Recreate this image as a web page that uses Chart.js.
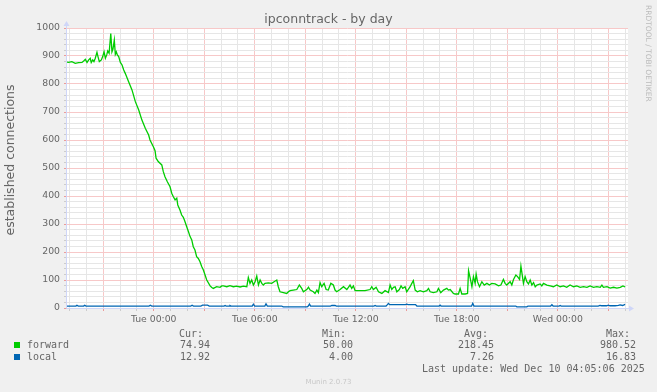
<!DOCTYPE html>
<html lang="en">
<head>
<meta charset="UTF-8">
<title>ipconntrack - by day</title>
<script src="https://cdn.jsdelivr.net/npm/chart.js@4.4.1/dist/chart.umd.min.js"></script>
<style>
    body { margin: 0; background: #f0f0f0; }
    #wrap { position: relative; width: 657px; height: 392px; overflow: hidden;
            font-family: 'DejaVu Sans', sans-serif; color: #666; }
    #chart { position: absolute; left: 0; top: 0; }
    .t { position: absolute; white-space: nowrap; }
    #title { left: 0; width: 657px; top: 12px; text-align: center; font-size: 12.5px; line-height: 14px; }
    #ytitle { left: -90px; top: 153px; width: 200px; text-align: center; font-size: 12.5px; line-height: 14px;
              transform: rotate(-90deg); }
    #side { left: 644px; top: 5px; writing-mode: vertical-rl; font-size: 7.5px; line-height: 8px; color: #bbb; }
    #footer { left: 0; width: 657px; top: 378px; text-align: center; font-size: 7px; line-height: 9px; color: #c8c8c8; }
    .mono { font-family: 'DejaVu Sans Mono', monospace; font-size: 10px; line-height: 12px; color: #666; }
    .sw { position: absolute; width: 6px; height: 6px; }
</style>
</head>
<body>
<div id="wrap">
    <canvas id="chart" width="657" height="392"></canvas>
    <div class="t" id="title">ipconntrack - by day</div>
    <div class="t" id="ytitle">established connections</div>
    <div class="t" id="side">RRDTOOL / TOBI OETIKER</div>
    <div class="t" id="footer">Munin 2.0.73</div>
    <div id="legend"></div>
</div>

<script>
    // hours relative to Tue 00:00
    const xMin = -5.15;
    const xMax = 28.17;
    const xTickHours = [0, 6, 12, 18, 24];
    const xTickLabels = ['Tue 00:00', 'Tue 06:00', 'Tue 12:00', 'Tue 18:00', 'Wed 00:00'];

    const fwdT = [
        -5.15, -5.05, -4.86, -4.66, -4.46, -4.26, -4.16, -4.06, -3.96, -3.86, -3.77, -3.71,
        -3.62, -3.55, -3.47, -3.37, -3.31, -3.23, -3.11, -3.03, -2.95, -2.87, -2.79, -2.73,
        -2.65, -2.55, -2.48, -2.42, -2.34, -2.28, -2.22, -2.16, -2.08, -1.98, -1.88, -1.78,
        -1.69, -1.49, -1.29, -1.09, -0.89, -0.70, -0.50, -0.30, -0.22, -0.02, 0.08, 0.14,
        0.27, 0.48, 0.57, 0.67, 0.81, 0.97, 1.07, 1.16, 1.27, 1.37, 1.43, 1.56,
        1.66, 1.76, 1.86, 1.96, 2.06, 2.16, 2.26, 2.35, 2.45, 2.55, 2.65, 2.75,
        2.85, 2.95, 3.05, 3.15, 3.35, 3.45, 3.54, 3.74, 3.94, 4.04, 4.14, 4.34,
        4.53, 4.73, 4.93, 5.13, 5.32, 5.53, 5.62, 5.72, 5.82, 5.92, 6.02, 6.12,
        6.22, 6.32, 6.42, 6.51, 6.61, 6.81, 7.01, 7.15, 7.31, 7.40, 7.50, 7.70,
        7.90, 8.00, 8.10, 8.29, 8.50, 8.65, 8.79, 8.89, 9.09, 9.19, 9.29, 9.48,
        9.58, 9.69, 9.78, 9.88, 9.98, 10.12, 10.24, 10.37, 10.52, 10.67, 10.77, 10.87,
        11.07, 11.27, 11.47, 11.66, 11.76, 11.86, 11.96, 12.26, 12.55, 12.85, 12.95, 13.05,
        13.21, 13.35, 13.55, 13.74, 13.94, 14.04, 14.14, 14.24, 14.34, 14.44, 14.59, 14.69,
        14.79, 14.93, 15.03, 15.23, 15.33, 15.42, 15.53, 15.66, 15.82, 16.02, 16.22, 16.32,
        16.42, 16.61, 16.82, 16.91, 17.05, 17.21, 17.41, 17.50, 17.61, 17.80, 17.90, 18.10,
        18.20, 18.30, 18.50, 18.64, 18.70, 18.80, 18.90, 18.99, 19.09, 19.15, 19.23, 19.35,
        19.49, 19.63, 19.79, 19.94, 20.08, 20.28, 20.48, 20.62, 20.77, 20.87, 20.97, 21.17,
        21.27, 21.37, 21.51, 21.61, 21.73, 21.81, 21.88, 21.96, 22.06, 22.16, 22.26, 22.36,
        22.46, 22.56, 22.66, 22.76, 22.95, 23.05, 23.15, 23.35, 23.55, 23.74, 23.94, 24.14,
        24.34, 24.53, 24.73, 24.93, 25.13, 25.33, 25.53, 25.73, 25.92, 26.12, 26.32, 26.52,
        26.62, 26.71, 26.92, 27.11, 27.31, 27.51, 27.71, 27.87, 28.00
    ];
    const fwdV = [
        878, 877, 880, 874, 876, 877, 882, 888, 877, 886, 892, 877,
        886, 880, 892, 913, 898, 880, 886, 898, 915, 892, 904, 918,
        910, 980.5, 915, 925, 957, 906, 915, 904, 898, 877, 868, 850,
        838, 808, 779, 737, 707, 671, 642, 618, 600, 576, 562, 535,
        523, 511, 487, 469, 451, 433, 410, 398, 386, 392, 368, 350,
        332, 324, 308, 290, 273, 255, 243, 219, 207, 183, 177, 165,
        148, 136, 118, 100, 79, 73, 70, 76, 74, 79, 79, 76,
        80, 76, 78, 75, 78, 76, 109, 88, 100, 82, 94, 114,
        82, 100, 88, 82, 88, 90, 88, 94, 100, 76, 58, 55,
        52, 58, 62, 64, 66, 82, 70, 58, 66, 74, 64, 58,
        52, 64, 55, 91, 76, 88, 66, 64, 88, 82, 64, 58,
        66, 76, 66, 82, 70, 79, 62, 62, 62, 66, 76, 66,
        74, 58, 52, 62, 55, 82, 66, 74, 76, 58, 66, 79,
        70, 76, 58, 76, 88, 98, 64, 58, 62, 58, 62, 70,
        58, 55, 58, 70, 55, 64, 70, 64, 66, 52, 50, 50,
        70, 50, 50, 52, 133, 106, 76, 112, 88, 121, 94, 76,
        94, 82, 88, 82, 88, 86, 79, 82, 102, 88, 82, 94,
        82, 102, 118, 112, 102, 150, 121, 88, 112, 94, 86, 100,
        82, 91, 76, 82, 86, 79, 88, 82, 79, 76, 82, 76,
        79, 74, 82, 76, 79, 74, 76, 74, 79, 74, 76, 74,
        82, 74, 76, 71, 74, 71, 74, 79, 74.94
    ];

    const localT = [
        -5.15, -4.62, -4.56, -4.48, -4.16, -4.10, -4.02, -0.28, -0.20, -0.12,
        2.20, 2.28, 2.36, 2.80, 2.90, 3.20, 3.30, 4.18, 4.24, 4.30,
        4.48, 4.53, 4.60, 5.85, 5.92, 6.00, 6.60, 6.67, 6.75, 7.60,
        7.69, 9.11, 9.18, 9.25, 9.32, 10.50, 10.58, 10.77, 10.85, 13.08,
        13.15, 13.22, 13.80, 13.88, 13.94, 14.02, 14.60, 14.95, 15.03, 15.11,
        15.55, 15.63, 16.95, 17.01, 17.07, 18.88, 18.95, 19.02, 21.50, 21.57,
        22.16, 22.23, 23.58, 23.65, 23.72, 24.08, 24.14, 24.20, 26.40, 26.50,
        26.60, 26.90, 27.00, 27.10, 27.40, 27.60, 27.70, 27.85, 28.00
    ];
    const localV = [
        7, 7, 10, 7, 7, 10, 7, 7, 10, 7,
        7, 10, 7, 7, 10, 10, 7, 7, 9, 7,
        7, 9, 7, 7, 14, 7, 7, 15, 7, 7,
        4, 4, 7, 14, 7, 7, 9, 9, 7, 7,
        9, 7, 7, 12, 16, 12, 12, 12, 14, 12,
        12, 7, 7, 10, 7, 7, 16.8, 7, 7, 4,
        4, 7, 7, 12, 7, 7, 9, 7, 7, 9,
        8, 8, 10, 8, 8, 9, 11, 9, 12.92
    ];

    const seriesNames = ['forward', 'local'];
    const seriesColors = ['#00cc00', '#0066b3'];
    const curVals = ['74.94', '12.92'];
    const minVals = ['50.00', '4.00'];
    const avgVals = ['218.45', '7.26'];
    const maxVals = ['980.52', '16.83'];
    const lastUpdate = 'Last update: Wed Dec 10 04:05:06 2025';

    // legend table (munin style)
    const legend = document.getElementById('legend');
    function addText(text, css) {
        const d = document.createElement('div');
        d.className = 't mono';
        d.textContent = text;
        Object.assign(d.style, css);
        legend.appendChild(d);
    }
    const headRight = [203, 346, 488, 630];
    const valRight = [210, 353, 494, 636];
    ['Cur:', 'Min:', 'Avg:', 'Max:'].forEach((h, i) => addText(h, {right: (657 - headRight[i]) + 'px', top: '328px'}));
    seriesNames.forEach((name, s) => {
        const top = 339 + s * 12;
        const sw = document.createElement('div');
        sw.className = 'sw';
        sw.style.left = '14px';
        sw.style.top = (top + 3) + 'px';
        sw.style.background = seriesColors[s];
        legend.appendChild(sw);
        addText(name, {left: '27px', top: top + 'px'});
        [curVals, minVals, avgVals, maxVals].forEach((arr, i) =>
            addText(arr[s], {right: (657 - valRight[i]) + 'px', top: top + 'px'}));
    });
    addText(lastUpdate, {left: '422px', top: '363px'});

    const plotBg = {
        id: 'plotBg',
        beforeDraw(chart) {
            const {ctx, chartArea: a} = chart;
            ctx.save();
            ctx.fillStyle = '#ffffff';
            ctx.fillRect(a.left, a.top, a.right - a.left, a.bottom - a.top);
            ctx.restore();
        },
        beforeDatasetsDraw(chart) {
            const {ctx, chartArea: a} = chart;
            ctx.save();
            ctx.strokeStyle = '#cfd6f8';
            ctx.fillStyle = '#cfd6f8';
            ctx.lineWidth = 1;
            ctx.beginPath();
            ctx.moveTo(a.left - 0.5, a.bottom + 0.5);
            ctx.lineTo(a.left - 0.5, a.top - 2);
            ctx.moveTo(a.left - 0.5, a.bottom + 0.5);
            ctx.lineTo(a.right + 1, a.bottom + 0.5);
            ctx.stroke();
            ctx.beginPath();
            ctx.moveTo(a.left - 3.5, a.top - 2);
            ctx.lineTo(a.left + 2.5, a.top - 2);
            ctx.lineTo(a.left - 0.5, a.top - 7);
            ctx.fill();
            ctx.beginPath();
            ctx.moveTo(a.right + 1, a.bottom - 2.5);
            ctx.lineTo(a.right + 1, a.bottom + 3.5);
            ctx.lineTo(a.right + 6, a.bottom + 0.5);
            ctx.fill();
            ctx.restore();
        }
    };

    // dotted grid of rrdtool approximated by light solid lines
    const minorGrid = '#e6e6e6';
    const majorGrid = '#f7c8c8';
    const isMajorHour = (v) => Math.abs(Math.round(v)) % 3 === 0;

    new Chart(document.getElementById('chart'), {
        type: 'line',
        data: {
            datasets: [
                {
                    label: seriesNames[0],
                    data: fwdT.map((t, i) => ({x: t, y: fwdV[i]})),
                    borderColor: seriesColors[0],
                    borderWidth: 1.3,
                    pointRadius: 0,
                    tension: 0
                },
                {
                    label: seriesNames[1],
                    data: localT.map((t, i) => ({x: t, y: localV[i]})),
                    borderColor: seriesColors[1],
                    borderWidth: 1.3,
                    pointRadius: 0,
                    tension: 0
                }
            ]
        },
        options: {
            responsive: false,
            animation: false,
            layout: { padding: { top: 28, right: 29, left: 0, bottom: 0 } },
            plugins: { legend: { display: false }, tooltip: { enabled: false } },
            scales: {
                x: {
                    type: 'linear',
                    min: xMin,
                    max: xMax,
                    afterFit: (s) => { s.height = 84; s.paddingLeft = 0; s.paddingRight = 0; },
                    border: { display: false },
                    grid: {
                        color: (c) => (c.tick && isMajorHour(c.tick.value) ? majorGrid : minorGrid),
                        tickColor: (c) => (c.tick && isMajorHour(c.tick.value) ? '#eb9a9a' : '#cccccc'),
                        tickLength: 3
                    },
                    ticks: {
                        stepSize: 1,
                        includeBounds: false,
                        autoSkip: false,
                        maxRotation: 0,
                        minRotation: 0,
                        padding: 3,
                        color: '#666',
                        font: { family: 'DejaVu Sans', size: 9.3 },
                        callback: (v) => {
                            const i = xTickHours.indexOf(Math.round(v * 100) / 100);
                            return i >= 0 ? xTickLabels[i] : '';
                        }
                    }
                },
                y: {
                    min: 0,
                    max: 1000,
                    afterFit: (s) => { s.width = 67; s.paddingTop = 0; s.paddingBottom = 0; },
                    border: { display: false },
                    grid: {
                        color: (c) => c.tick.value === 0 ? 'rgba(0,0,0,0)' :
                            (c.tick.value % 100 === 0 ? majorGrid : minorGrid),
                        tickColor: (c) => (c.tick.value % 100 === 0 ? '#eb9a9a' : '#cccccc'),
                        tickLength: 3
                    },
                    ticks: {
                        stepSize: 20,
                        autoSkip: false,
                        padding: 4,
                        color: '#666',
                        font: { family: 'DejaVu Sans', size: 9.3 },
                        callback: (v) => (v % 100 === 0 ? String(v) : '')
                    }
                }
            }
        },
        plugins: [plotBg]
    });
</script>
</body>
</html>
